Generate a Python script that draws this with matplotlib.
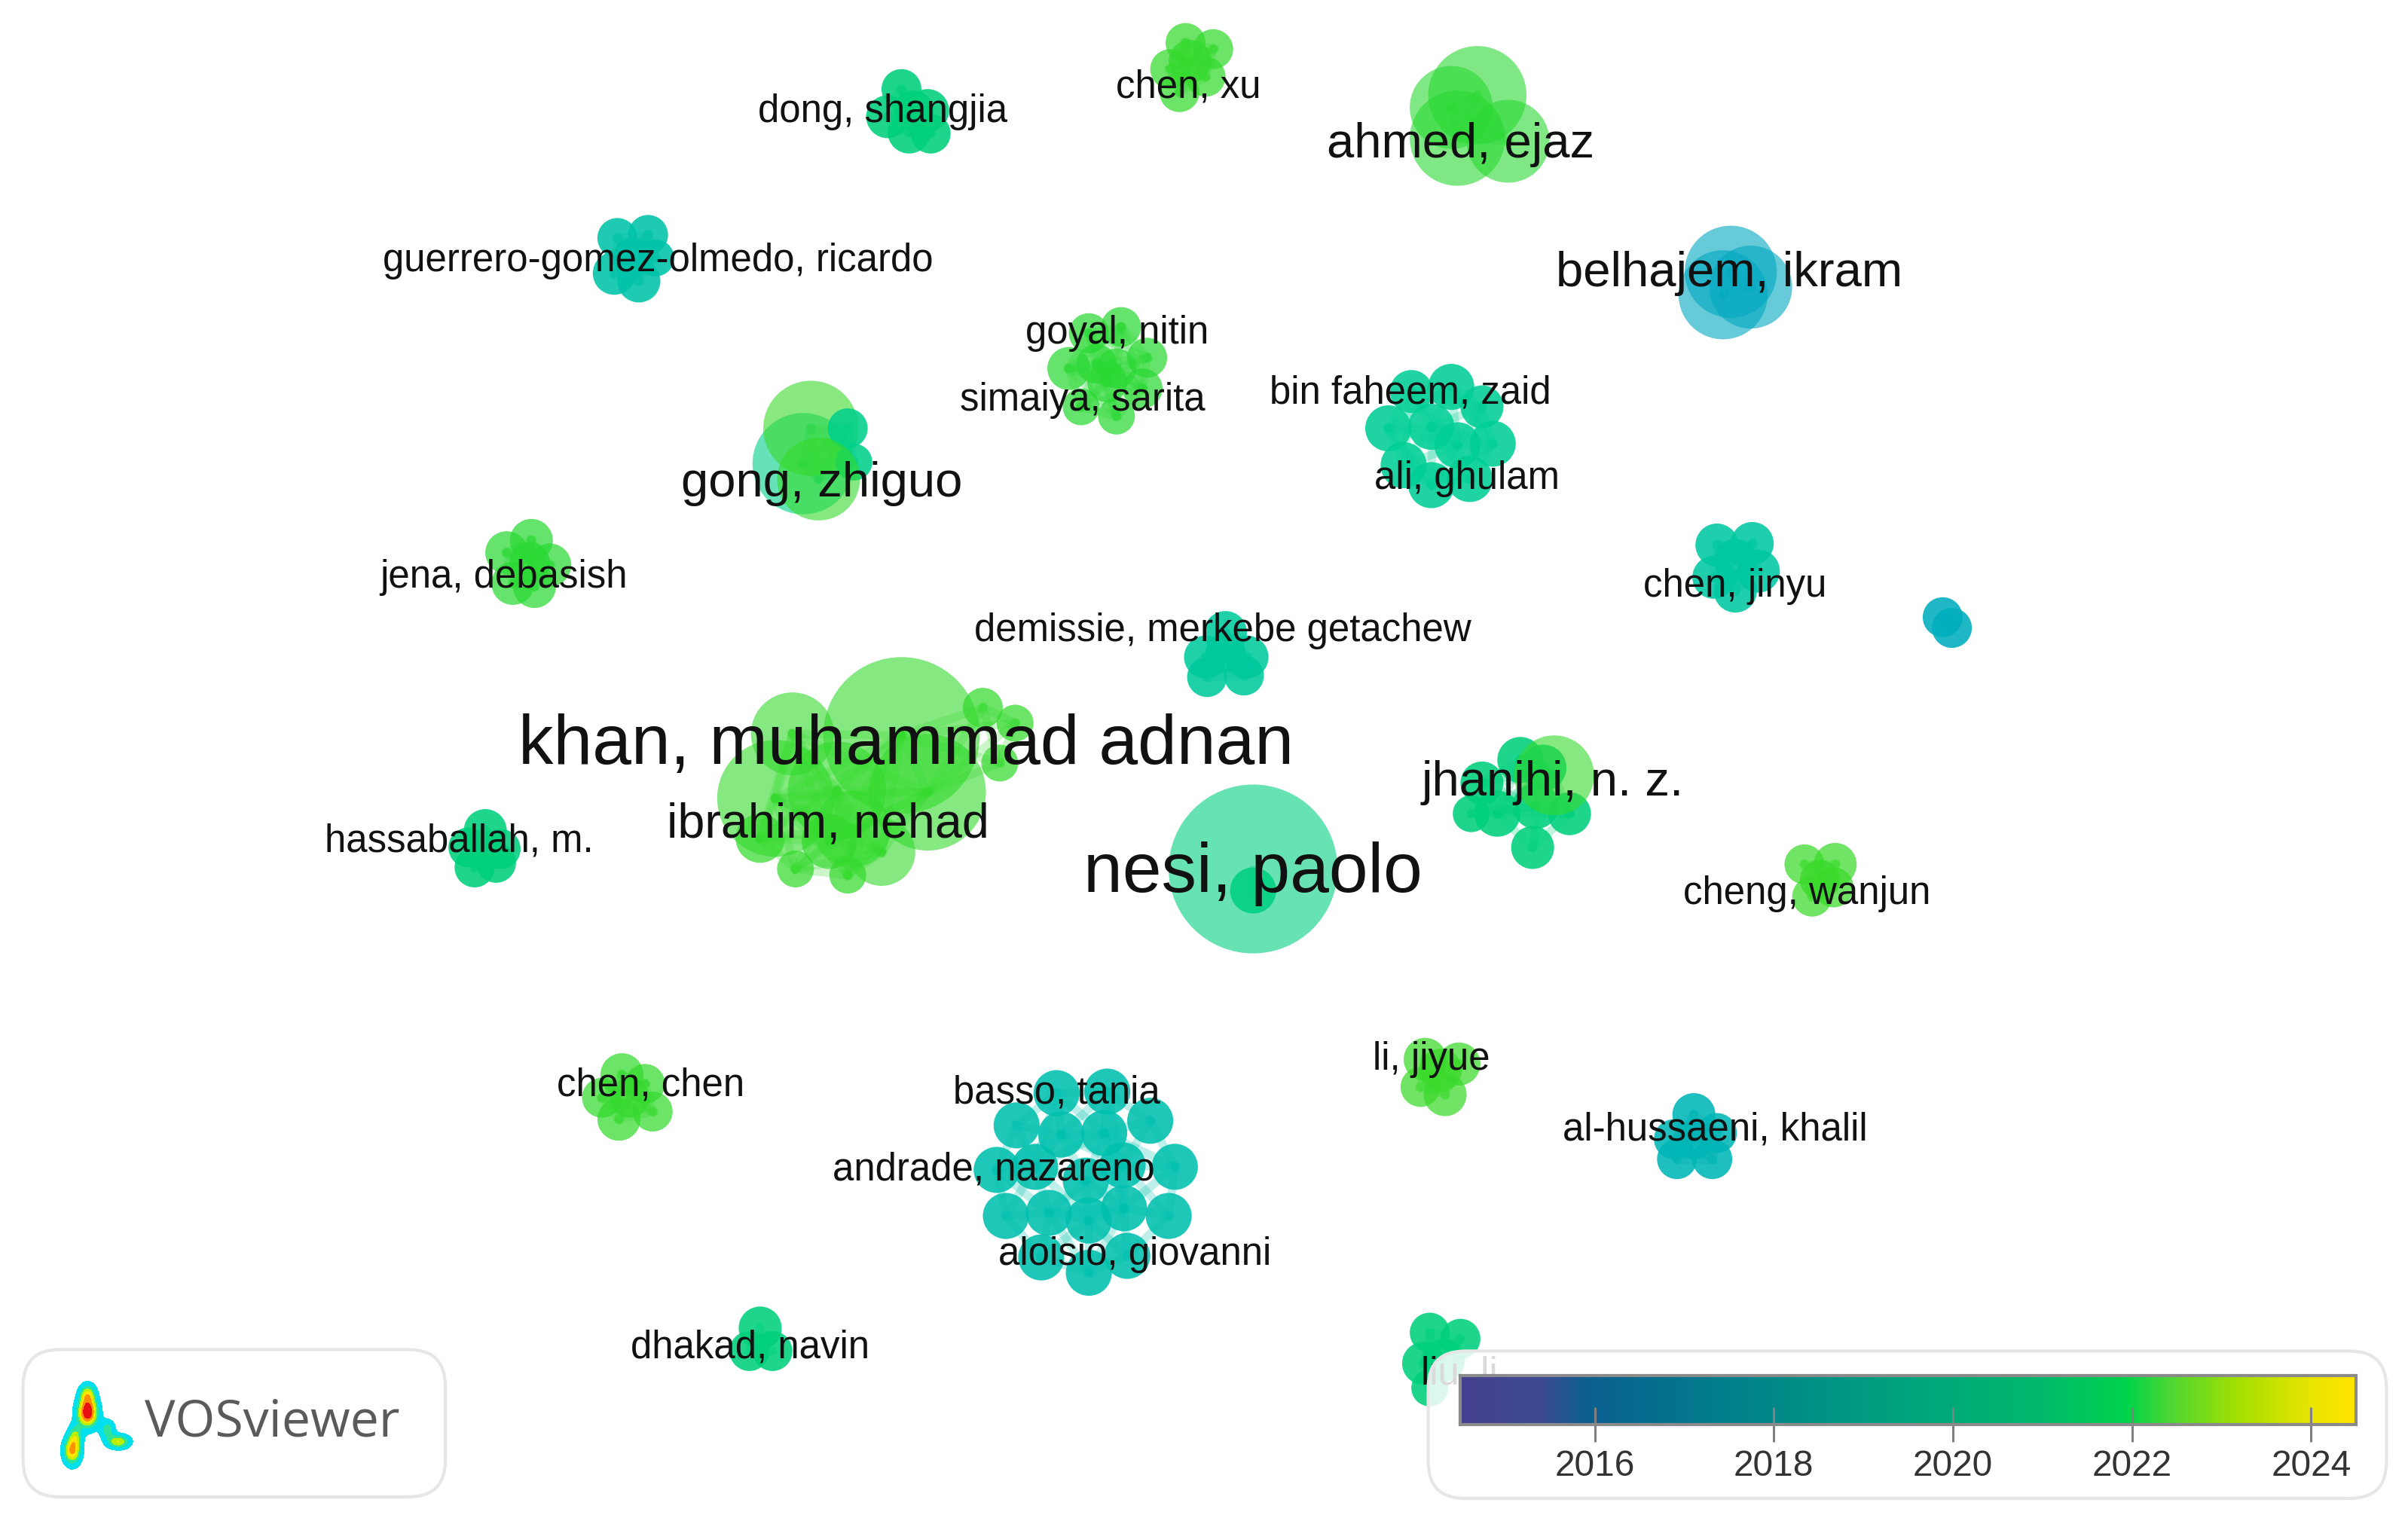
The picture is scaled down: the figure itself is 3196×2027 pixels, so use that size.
import matplotlib
matplotlib.use("Agg")
import matplotlib.pyplot as plt
import numpy as np
from matplotlib.colors import LinearSegmentedColormap, Normalize
from matplotlib.patches import Circle, FancyBboxPatch

# map coordinates, one unit is about 2 pixels of the final image
# author nodes, grouped by cluster: x, y, radius, average publication year
cluster_sizes = [6, 6, 4, 6, 3, 10, 10, 5, 6, 6, 6, 2, 14, 2, 5, 9, 5, 5, 6, 19, 6, 3, 5]
node_x = [
    587, 578, 604, 592, 606, 595,  # dong
    772, 790, 762, 785, 768, 775,  # chen xu
    945, 962, 949, 982,  # ahmed
    402, 422, 400, 416, 427, 412,  # guerrero
    1127, 1122, 1140,  # belhajem
    709, 730, 696, 747, 714, 727, 721, 744, 704, 727,  # goyal
    919, 945, 965, 904, 932, 972, 949, 914, 932, 957,  # bin faheem
    523, 528, 552, 556, 533,  # gong
    346, 330, 358, 334, 348, 345,  # jena
    798, 785, 812, 786, 810, 798,  # demissie
    1118, 1141, 1116, 1145, 1130, 1130,  # chen jinyu
    1265, 1271,
    505, 516, 495, 540, 574, 604, 518, 552, 640, 661, 651, 587, 545, 555,  # khan
    816, 816,  # nesi
    316, 305, 326, 309, 323,  # hassaballah
    965, 990, 975, 1000, 1022, 998, 958, 1005, 1012,  # jhanjhi
    1175, 1195, 1185, 1180, 1194,  # cheng
    928, 950, 925, 941, 938,  # li jiyue
    405, 392, 420, 425, 403, 410,  # chen chen
    688, 721, 662, 749, 691, 719, 765, 649, 674, 731, 707, 655, 683, 709, 732, 761, 678, 734, 709,  # basso
    1103, 1090, 1118, 1092, 1115, 1103,  # al-hussaeni
    495, 488, 503,  # dhakad
    931, 951, 927, 940, 931,  # liu
]
node_y = [
    58, 76, 72, 86, 87, 72,
    28, 32, 45, 50, 60, 40,
    70, 62, 90, 92,
    155, 153, 178, 183, 168, 168,
    177, 192, 187,
    217, 213, 240, 233, 237, 240, 249, 253, 265, 271,
    255, 252, 265, 279, 278, 289, 290, 303, 316, 312,
    302, 279, 279, 301, 312,
    352, 360, 368, 380, 382, 366,
    412, 428, 428, 441, 440, 425,
    355, 354, 376, 372, 385, 365,
    402, 409,
    520, 478, 546, 548, 555, 516, 566, 570, 461, 471, 497, 479, 515, 540,
    566, 580,
    541, 552, 553, 565, 562,
    510, 495, 530, 525, 530, 552, 530, 500, 505,
    563, 563, 573, 584, 578,
    690, 693, 708, 713, 697,
    700, 715, 706, 724, 729, 715,
    712, 711, 733, 730, 739, 738, 760, 762, 760, 759, 769, 792, 790, 795, 787, 792, 819, 818, 829,
    726, 742, 738, 755, 755, 742,
    865, 880, 880,
    868, 872, 888, 886, 904,
]
node_r = [
    13, 14, 14, 14, 13, 13,
    13, 13, 13, 13, 13, 14,
    27, 32, 31, 27,
    13, 13, 14, 14, 12, 13,
    30, 29, 27,
    13, 13, 14, 13, 13, 13, 13, 13, 12, 12,
    14, 15, 14, 15, 15, 15, 15, 15, 15, 15,
    33, 31, 13, 12, 27,
    14, 14, 14, 14, 14, 13,
    14, 14, 14, 13, 13, 13,
    14, 14, 14, 14, 14, 14,
    13, 13,
    38, 27, 16, 18, 22, 38, 12, 12, 13, 12, 12, 51, 32, 25,
    55, 15,
    14, 13, 13, 13, 13,
    14, 15, 15, 15, 14, 14, 12, 15, 26,
    13, 14, 13, 13, 13,
    14, 14, 13, 14, 14,
    14, 13, 13, 13, 14, 13,
    15, 15, 15, 15, 15, 15, 15, 15, 15, 15, 15, 15, 15, 15, 15, 15, 15, 15, 15,
    14, 13, 13, 13, 13, 13,
    14, 13, 13,
    13, 13, 14, 14, 12,
]
node_year = (
    [2021.0] * 6 + [2022.4] * 6 + [2022.3] * 4 + [2018.8] * 6 + [2017.0] * 3
    + [2022.3] * 10 + [2020.0] * 10
    + [2020.5, 2022.5, 2020.5, 2020.5, 2022.4]
    + [2022.3] * 6 + [2019.5] * 6 + [2019.3] * 6 + [2017.3] * 2
    + [2022.4] * 14
    + [2020.8, 2020.8]
    + [2021.0] * 5
    + [2021.0] * 8 + [2022.4]
    + [2022.5] * 5 + [2022.5] * 5 + [2022.4] * 6
    + [2018.5] * 19
    + [2017.8] * 6 + [2021.0] * 3 + [2021.0] * 5
)

label_text = [
    "dong, shangjia", "chen, xu", "ahmed, ejaz", "guerrero-gomez-olmedo, ricardo",
    "belhajem, ikram", "goyal, nitin", "simaiya, sarita", "bin faheem, zaid",
    "ali, ghulam", "gong, zhiguo", "jena, debasish", "chen, jinyu",
    "demissie, merkebe getachew", "khan, muhammad adnan", "ibrahim, nehad",
    "jhanjhi, n. z.", "hassaballah, m.", "nesi, paolo", "cheng, wanjun",
    "li, jiyue", "chen, chen", "basso, tania", "al-hussaeni, khalil",
    "andrade, nazareno", "aloisio, giovanni", "dhakad, navin", "liu, li",
]
label_x = [
    575, 774, 951, 428.5, 1126, 727.5, 705, 918.5, 955, 535, 328, 1129.5, 796,
    590, 539, 1011, 299, 816, 1176.5, 932, 423.5, 688, 1117, 647, 739, 488.5, 950,
]
label_y = [
    73, 57, 94, 170, 178, 217, 261, 256, 312, 315, 376, 382, 411,
    486, 537, 510, 548, 569, 582, 690, 707, 712, 736, 762, 817, 878, 895,
]
label_size = [
    36.7, 36.7, 47, 36.7, 47, 36.7, 36.7, 36.7, 36.7, 47, 36.7, 36.7, 36.7,
    67, 46.5, 47, 36.7, 67, 36.7, 36.7, 36.7, 36.7, 36.7, 36.7, 36.7, 36.7, 36.7,
]

bar_years = [2016, 2018, 2020, 2022, 2024]
bar_min, bar_max = 2014.5, 2024.5

bar_cmap = LinearSegmentedColormap.from_list("overlay_bar", [
    (0.00, "#44408f"), (0.09, "#3d4a94"), (0.14, "#0b5f90"), (0.30, "#00808c"),
    (0.50, "#00a47e"), (0.65, "#00b96c"), (0.745, "#00d44c"), (0.80, "#55d830"),
    (0.87, "#a4e000"), (0.95, "#e8e400"), (1.00, "#ffe600"),
])
node_cmap = LinearSegmentedColormap.from_list("overlay_nodes", [
    (0.00, "#0090c8"), (0.25, "#00a8c0"), (0.40, "#00c0ae"), (0.55, "#00cf95"),
    (0.65, "#00d07c"), (0.73, "#00d458"), (0.79, "#32da2d"), (1.00, "#e0e000"),
])
norm = Normalize(bar_min, bar_max)

fig = plt.figure(figsize=(31.96, 20.27), dpi=100)
ax = fig.add_axes([0, 0, 1, 1])
ax.set_xlim(0, 1568)
ax.set_ylim(994.6, 0)
ax.axis("off")

# links inside each cluster fill the gaps between the bubbles
start = 0
for size in cluster_sizes:
    for i in range(start, start + size):
        for j in range(i + 1, start + size):
            dist = np.hypot(node_x[i] - node_x[j], node_y[i] - node_y[j])
            if dist < 1.7 * (node_r[i] + node_r[j]):
                ax.plot([node_x[i], node_x[j]], [node_y[i], node_y[j]], linewidth=8,
                        color=node_cmap(norm(node_year[i])), alpha=0.25, zorder=1)
    start += size

for x, y, r, year in zip(node_x, node_y, node_r, node_year):
    alpha = 0.88 if r < 20 else 0.6
    if year > 2022 and r < 20:
        alpha = 0.72
    ax.add_patch(Circle((x, y), r, facecolor=node_cmap(norm(year)), edgecolor="none",
                        alpha=alpha, zorder=2))

for text, x, y, size in zip(label_text, label_x, label_y, label_size):
    ax.text(x, y, text, fontsize=size, family="Liberation Sans", color="#111111",
            ha="center", va="center", zorder=5)

# logo and legend frames
ax.add_patch(FancyBboxPatch((35, 899), 235, 56, boxstyle="round,pad=20,rounding_size=24",
                            facecolor="white", edgecolor="#e6e6e6", linewidth=3, zorder=6))
ax.add_patch(FancyBboxPatch((950, 900), 584, 56, boxstyle="round,pad=20,rounding_size=24",
                            facecolor=(1, 1, 1, 0.85), edgecolor="#e6e6e6", linewidth=3, zorder=6))

# heat map logo
gx, gy = np.meshgrid(np.linspace(30, 95, 300), np.linspace(895, 960, 300))
logo_blobs = [
    (57, 908, 3.5, 4.5, 0.5), (57, 920, 4.5, 6.5, 1.0), (47, 945, 3.8, 6, 0.72),
    (49, 935, 3, 5, 0.38), (70, 931, 3.2, 4, 0.38), (77, 939, 5, 3, 0.58),
]
heat = np.zeros_like(gx)
for cx, cy, sx, sy, w in logo_blobs:
    heat += w * np.exp(-((gx - cx) ** 2) / (2 * sx ** 2) - ((gy - cy) ** 2) / (2 * sy ** 2))
ax.contourf(gx, gy, heat, levels=[0.1, 0.3, 0.45, 0.58, 0.7, 0.85, 5],
            colors=["#00dfee", "#2fe39a", "#b8f000", "#ffe600", "#ff9000", "#e81010"], zorder=7)
ax.text(177, 927, "VOSviewer", fontsize=49, family="Open Sans", color="#5a5a5a",
        ha="center", va="center", zorder=7)

# colour bar
cax = fig.add_axes([951 / 1568, 1 - 928 / 994.6, 583 / 1568, 32 / 994.6], zorder=3)
cax.imshow(np.linspace(0, 1, 512)[None, :], aspect="auto", cmap=bar_cmap,
           extent=(bar_min, bar_max, 0, 1))
cax.set_yticks([])
cax.set_xticks(bar_years)
cax.set_xticklabels(bar_years, fontsize=34.5, family="Liberation Sans", color="#333333")
cax.tick_params(axis="x", direction="inout", length=33, width=2.2, color="#808080", pad=7)
for spine in cax.spines.values():
    spine.set_color("#8a8a8a")
    spine.set_linewidth(3)

fig.savefig("out.png", dpi=100)
